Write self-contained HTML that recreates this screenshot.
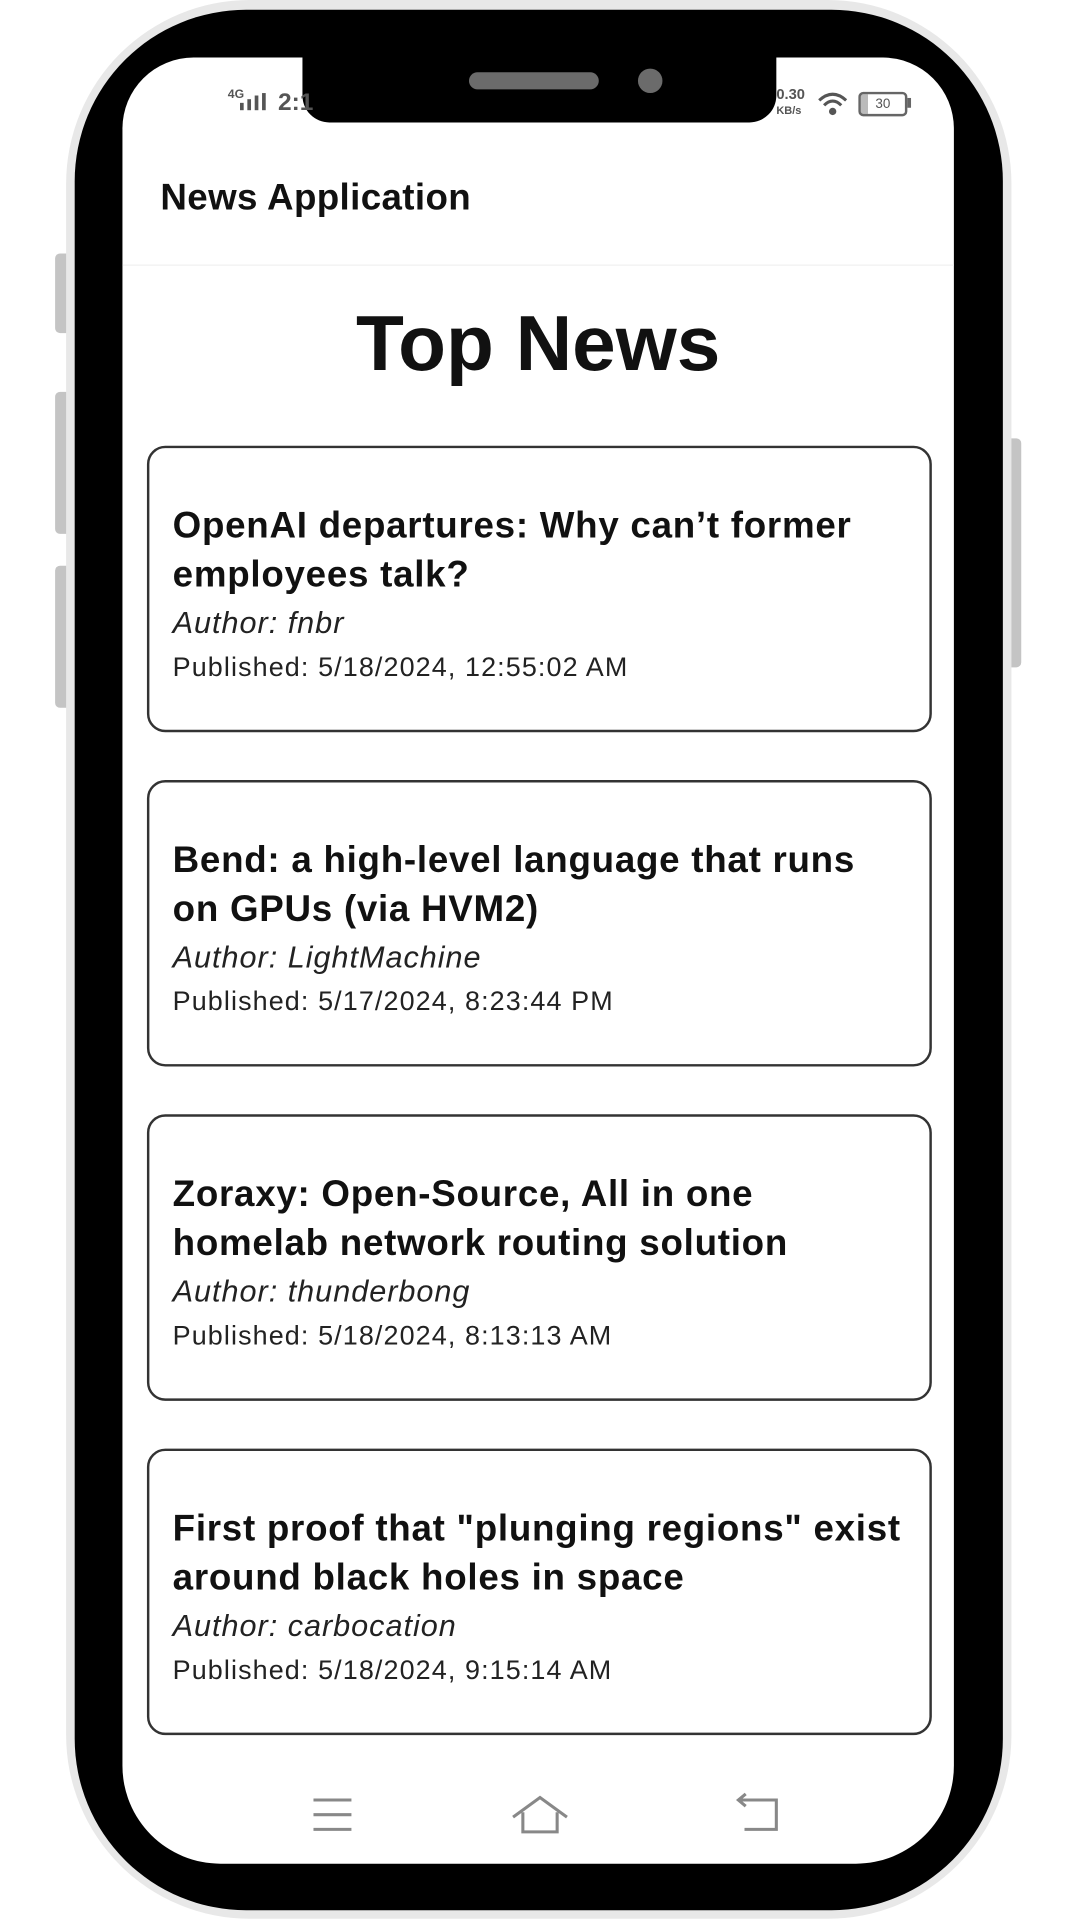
<!DOCTYPE html>
<html><head><meta charset="utf-8"><style>
html,body{margin:0;padding:0;background:#fff;width:1080px;height:1920px;overflow:hidden}
#s{position:absolute;left:0;top:0;width:886px;height:1568px;transform-origin:0 0;transform:scale(1.2245,1.2245);font-family:"Liberation Sans",sans-serif;color:#111}
.a{position:absolute}
.btn{position:absolute;background:#c4c4c4;border-radius:4px}
.card{position:absolute;left:120px;width:637px;height:230px;border:2px solid #333;border-radius:15px;background:#fff}
.t{position:absolute;left:19px;top:44px;font-weight:bold;font-size:30px;line-height:40px;white-space:nowrap;letter-spacing:0.6px}
.au{position:absolute;left:19px;top:129px;font-style:italic;font-size:25px;white-space:nowrap;color:#222;letter-spacing:0.8px}
.pu{position:absolute;left:19px;top:166px;font-size:22px;white-space:nowrap;color:#222;letter-spacing:0.9px}
</style></head><body><div id="s">
<div class="btn" style="left:45px;top:207px;width:14px;height:65px"></div>
<div class="btn" style="left:45px;top:320px;width:14px;height:116px"></div>
<div class="btn" style="left:45px;top:462px;width:14px;height:116px"></div>
<div class="btn" style="left:822px;top:358px;width:12px;height:187px"></div>
<div class="a" style="left:54px;top:0;width:772px;height:1567px;background:#e8e8e8;border-radius:150px"></div>
<div class="a" style="left:61px;top:8px;width:758px;height:1552px;background:#000;border-radius:140px"></div>
<div class="a" style="left:100px;top:47px;width:679px;height:1475px;background:#fff;border-radius:58px 58px 80px 80px"></div>
<div class="a" style="left:247px;top:40px;width:387px;height:60px;background:#000;border-radius:0 0 22px 22px"></div>
<div class="a" style="left:383px;top:59px;width:106px;height:14px;background:#6b6b6b;border-radius:7px"></div>
<div class="a" style="left:521px;top:56px;width:20px;height:20px;background:#6b6b6b;border-radius:50%"></div>
<div class="a" style="left:186px;top:72px;font-size:10px;font-weight:bold;color:#555">4G</div>
<div class="a" style="left:196px;top:84px;width:3px;height:6px;background:#555"></div>
<div class="a" style="left:202px;top:81px;width:3px;height:9px;background:#555"></div>
<div class="a" style="left:208px;top:78px;width:3px;height:12px;background:#555"></div>
<div class="a" style="left:214px;top:76px;width:3px;height:14px;background:#555"></div>
<div class="a" style="left:227px;top:73px;font-size:20px;font-weight:bold;color:#555">2:1</div>
<div class="a" style="left:634px;top:71px;font-size:12px;font-weight:bold;color:#555;line-height:12px">0.30<br><span style="font-size:9px">KB/s</span></div>
<svg class="a" style="left:667px;top:74px" width="26" height="22"><g fill="none" stroke="#555" stroke-width="2.5"><path d="M2 8 Q13 -2 24 8"/><path d="M6 12 Q13 5 20 12"/></g><circle cx="13" cy="17" r="3" fill="#555"/></svg>
<div class="a" style="left:701px;top:75px;width:36px;height:16px;border:2px solid #666;border-radius:4px;font-size:11px;color:#555;text-align:center;line-height:16px;background:linear-gradient(90deg,#bbb 0 6px,#fff 6px)">30</div>
<div class="a" style="left:741px;top:80px;width:3px;height:8px;background:#666"></div>
<div class="a" style="left:131px;top:145px;font-size:30px;font-weight:bold;letter-spacing:0.3px">News Application</div>
<div class="a" style="left:100px;top:216px;width:679px;height:1px;background:#f0f0f0"></div>
<div class="a" style="left:100px;top:243px;width:679px;text-align:center;font-size:64px;font-weight:bold;letter-spacing:0px">Top News</div>
<div class="card" style="top:364px"><div class="t">OpenAI departures: Why can’t former<br>employees talk?</div><div class="au">Author: fnbr</div><div class="pu">Published: 5/18/2024, 12:55:02 AM</div></div>
<div class="card" style="top:637px"><div class="t">Bend: a high-level language that runs<br>on GPUs (via HVM2)</div><div class="au">Author: LightMachine</div><div class="pu">Published: 5/17/2024, 8:23:44 PM</div></div>
<div class="card" style="top:910px"><div class="t">Zoraxy: Open-Source, All in one<br>homelab network routing solution</div><div class="au">Author: thunderbong</div><div class="pu">Published: 5/18/2024, 8:13:13 AM</div></div>
<div class="card" style="top:1183px"><div class="t">First proof that "plunging regions" exist<br>around black holes in space</div><div class="au">Author: carbocation</div><div class="pu">Published: 5/18/2024, 9:15:14 AM</div></div>
<svg class="a" style="left:0;top:0" width="886" height="1568">
<g stroke="#888" stroke-width="2.5" fill="none">
<line x1="256" y1="1470" x2="287" y2="1470"/><line x1="256" y1="1482" x2="287" y2="1482"/><line x1="256" y1="1494" x2="287" y2="1494"/>
<polyline points="419,1484 441,1468 463,1484"/><polyline points="427,1480 427,1496 455,1496 455,1480"/>
<polyline points="604,1470 634,1470 634,1494 608,1494"/><polyline points="609,1465 603,1470 609,1475"/>
</g></svg>
</div></body></html>
